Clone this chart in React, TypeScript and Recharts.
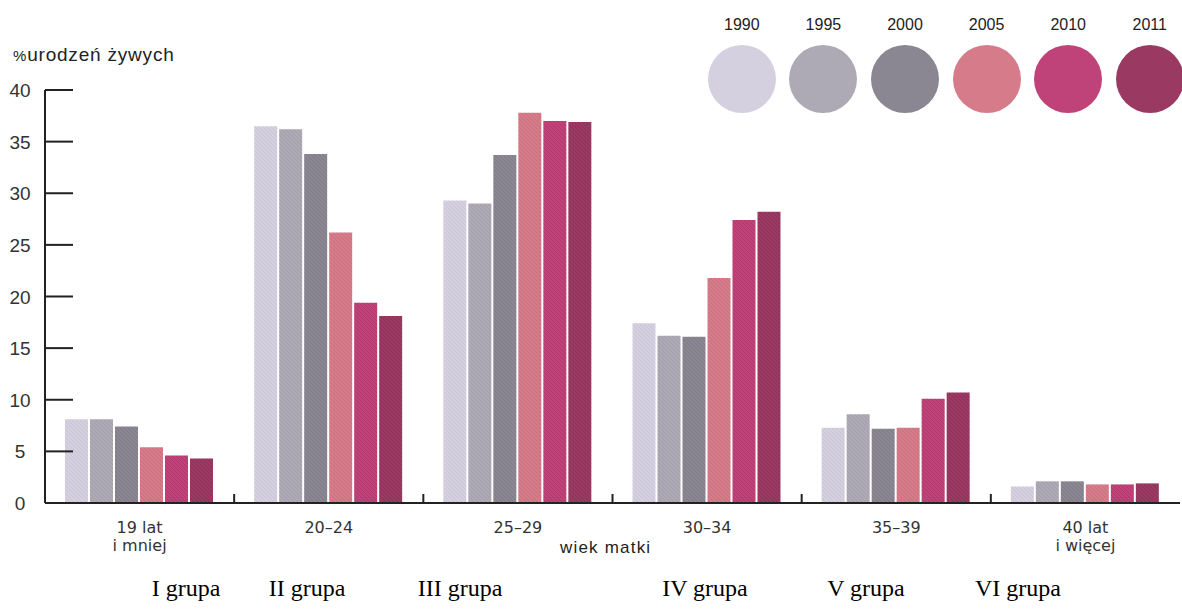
import { Bar, BarChart, XAxis, YAxis } from "recharts";

const categories = ["19 lat\ni mniej", "20–24", "25–29", "30–34", "35–39", "40 lat\ni więcej"];
const years = ["1990", "1995", "2000", "2005", "2010", "2011"];

const y1990 = [8.1, 36.5, 29.3, 17.4, 7.3, 1.6];
const y1995 = [8.1, 36.2, 29.0, 16.2, 8.6, 2.1];
const y2000 = [7.4, 33.8, 33.7, 16.1, 7.2, 2.1];
const y2005 = [5.4, 26.2, 37.8, 21.8, 7.3, 1.8];
const y2010 = [4.6, 19.4, 37.0, 27.4, 10.1, 1.8];
const y2011 = [4.3, 18.1, 36.9, 28.2, 10.7, 1.9];

const yTicks = [0, 5, 10, 15, 20, 25, 30, 35, 40];
const groupLabels = ["I grupa", "II grupa", "III grupa", "IV grupa", "V grupa", "VI grupa"];

const series = [y1990, y1995, y2000, y2005, y2010, y2011];
const data = categories.map((c, i) => {
    const row: any = { category: c };
    years.forEach((y, k) => (row[y] = series[k][i]));
    return row;
});

// look
const colors = ["#d4d0e0", "#aeaab5", "#8a8792", "#d57b89", "#bf4279", "#9a3a63"];
const stripe = ["#b9b4c8", "#94909c", "#6f6c77", "#bb5f6e", "#9c2a5c", "#7a2548"];
const W = 1182;
const H = 610;
const AXIS_X = 45;
const AXIS_Y = 503;
const PLOT_W = W - 2 - AXIS_X;
const BAND = PLOT_W / categories.length;
const groupLabelX = [186, 307, 460, 705, 866, 1018];
const font = "'Liberation Sans', Arial, sans-serif";
const font2 = "'DejaVu Sans', sans-serif";

const YTick = ({ y, payload }: any) => (
    <g>
        <text x={20} y={y + 7} textAnchor="middle" fontSize={19} fill="#333" fontFamily={font}>
            {payload.value}
        </text>
        {payload.value > 0 && (
            <line x1={AXIS_X} x2={AXIS_X + 28} y1={y} y2={y} stroke="#222" strokeWidth={2} />
        )}
    </g>
);

const XTick = ({ x, payload, index }: any) => {
    const lines = String(payload.value).split("\n");
    return (
        <g>
            {index > 0 && (
                <line x1={x - BAND / 2} x2={x - BAND / 2} y1={AXIS_Y} y2={AXIS_Y - 9} stroke="#222" strokeWidth={2} />
            )}
            <text x={x} y={AXIS_Y + 30} textAnchor="middle" fontSize={16} fill="#333" fontFamily={font2}>
                {lines.map((l, i) => (
                    <tspan key={i} x={x} dy={i === 0 ? 0 : 18}>{l}</tspan>
                ))}
            </text>
        </g>
    );
};

const LegendBox = () => (
    <div style={{ position: "absolute", top: 15, left: 701, display: "flex" }}>
        {years.map((y, i) => (
            <div key={y} style={{ width: 81.6, display: "flex", flexDirection: "column", alignItems: "center" }}>
                <div style={{ fontFamily: font, fontSize: 16, color: "#222", lineHeight: "19px" }}>{y}</div>
                <div
                    style={{
                        width: 68,
                        height: 68,
                        marginTop: 11,
                        borderRadius: "50%",
                        background: colors[i],
                    }}
                />
            </div>
        ))}
    </div>
);

export default function App() {
    return (
        <div style={{ position: "absolute", left: 0, top: 0, width: W, height: H, background: "#fff" }}>
            <BarChart
                width={W}
                height={H}
                data={data}
                margin={{ top: 90, right: 2, left: 0, bottom: 0 }}
                barCategoryGap={20}
                barGap={2}
            >
                <defs>
                    {colors.map((c, i) => (
                        <pattern key={i} id={"hatch" + i} patternUnits="userSpaceOnUse" width={4} height={4}>
                            <rect width={4} height={4} fill={c} />
                            <path d="M-1,3 l2,2 M0,0 l4,4 M3,-1 l2,2" stroke={stripe[i]} strokeWidth={1} opacity={0.45} />
                        </pattern>
                    ))}
                </defs>
                {years.map((y, i) => (
                    <Bar key={y} dataKey={y} fill={`url(#hatch${i})`} isAnimationActive={false} />
                ))}
                <YAxis
                    width={AXIS_X}
                    domain={[0, 40]}
                    ticks={yTicks}
                    interval={0}
                    tickLine={false}
                    axisLine={{ stroke: "#222", strokeWidth: 2 }}
                    tick={<YTick />}
                />
                <XAxis
                    dataKey="category"
                    height={H - AXIS_Y}
                    interval={0}
                    tickLine={false}
                    axisLine={{ stroke: "#222", strokeWidth: 2 }}
                    tick={<XTick />}
                />
            </BarChart>
            <LegendBox />
            <div style={{ position: "absolute", left: 13, top: 44, fontFamily: font, fontSize: 19, letterSpacing: 0.8, color: "#222" }}>
                <span style={{ fontSize: 15 }}>%</span>urodzeń żywych
            </div>
            <div style={{ position: "absolute", left: 560, top: 538, fontFamily: font, fontSize: 17, letterSpacing: 1.2, color: "#222" }}>
                wiek matki
            </div>
            {groupLabels.map((g, i) => (
                <div
                    key={g}
                    style={{
                        position: "absolute",
                        left: groupLabelX[i] - 60,
                        width: 120,
                        top: 575,
                        textAlign: "center",
                        fontFamily: "'Liberation Serif', 'Times New Roman', serif",
                        fontSize: 24,
                        color: "#000",
                    }}
                >
                    {g}
                </div>
            ))}
        </div>
    );
}
